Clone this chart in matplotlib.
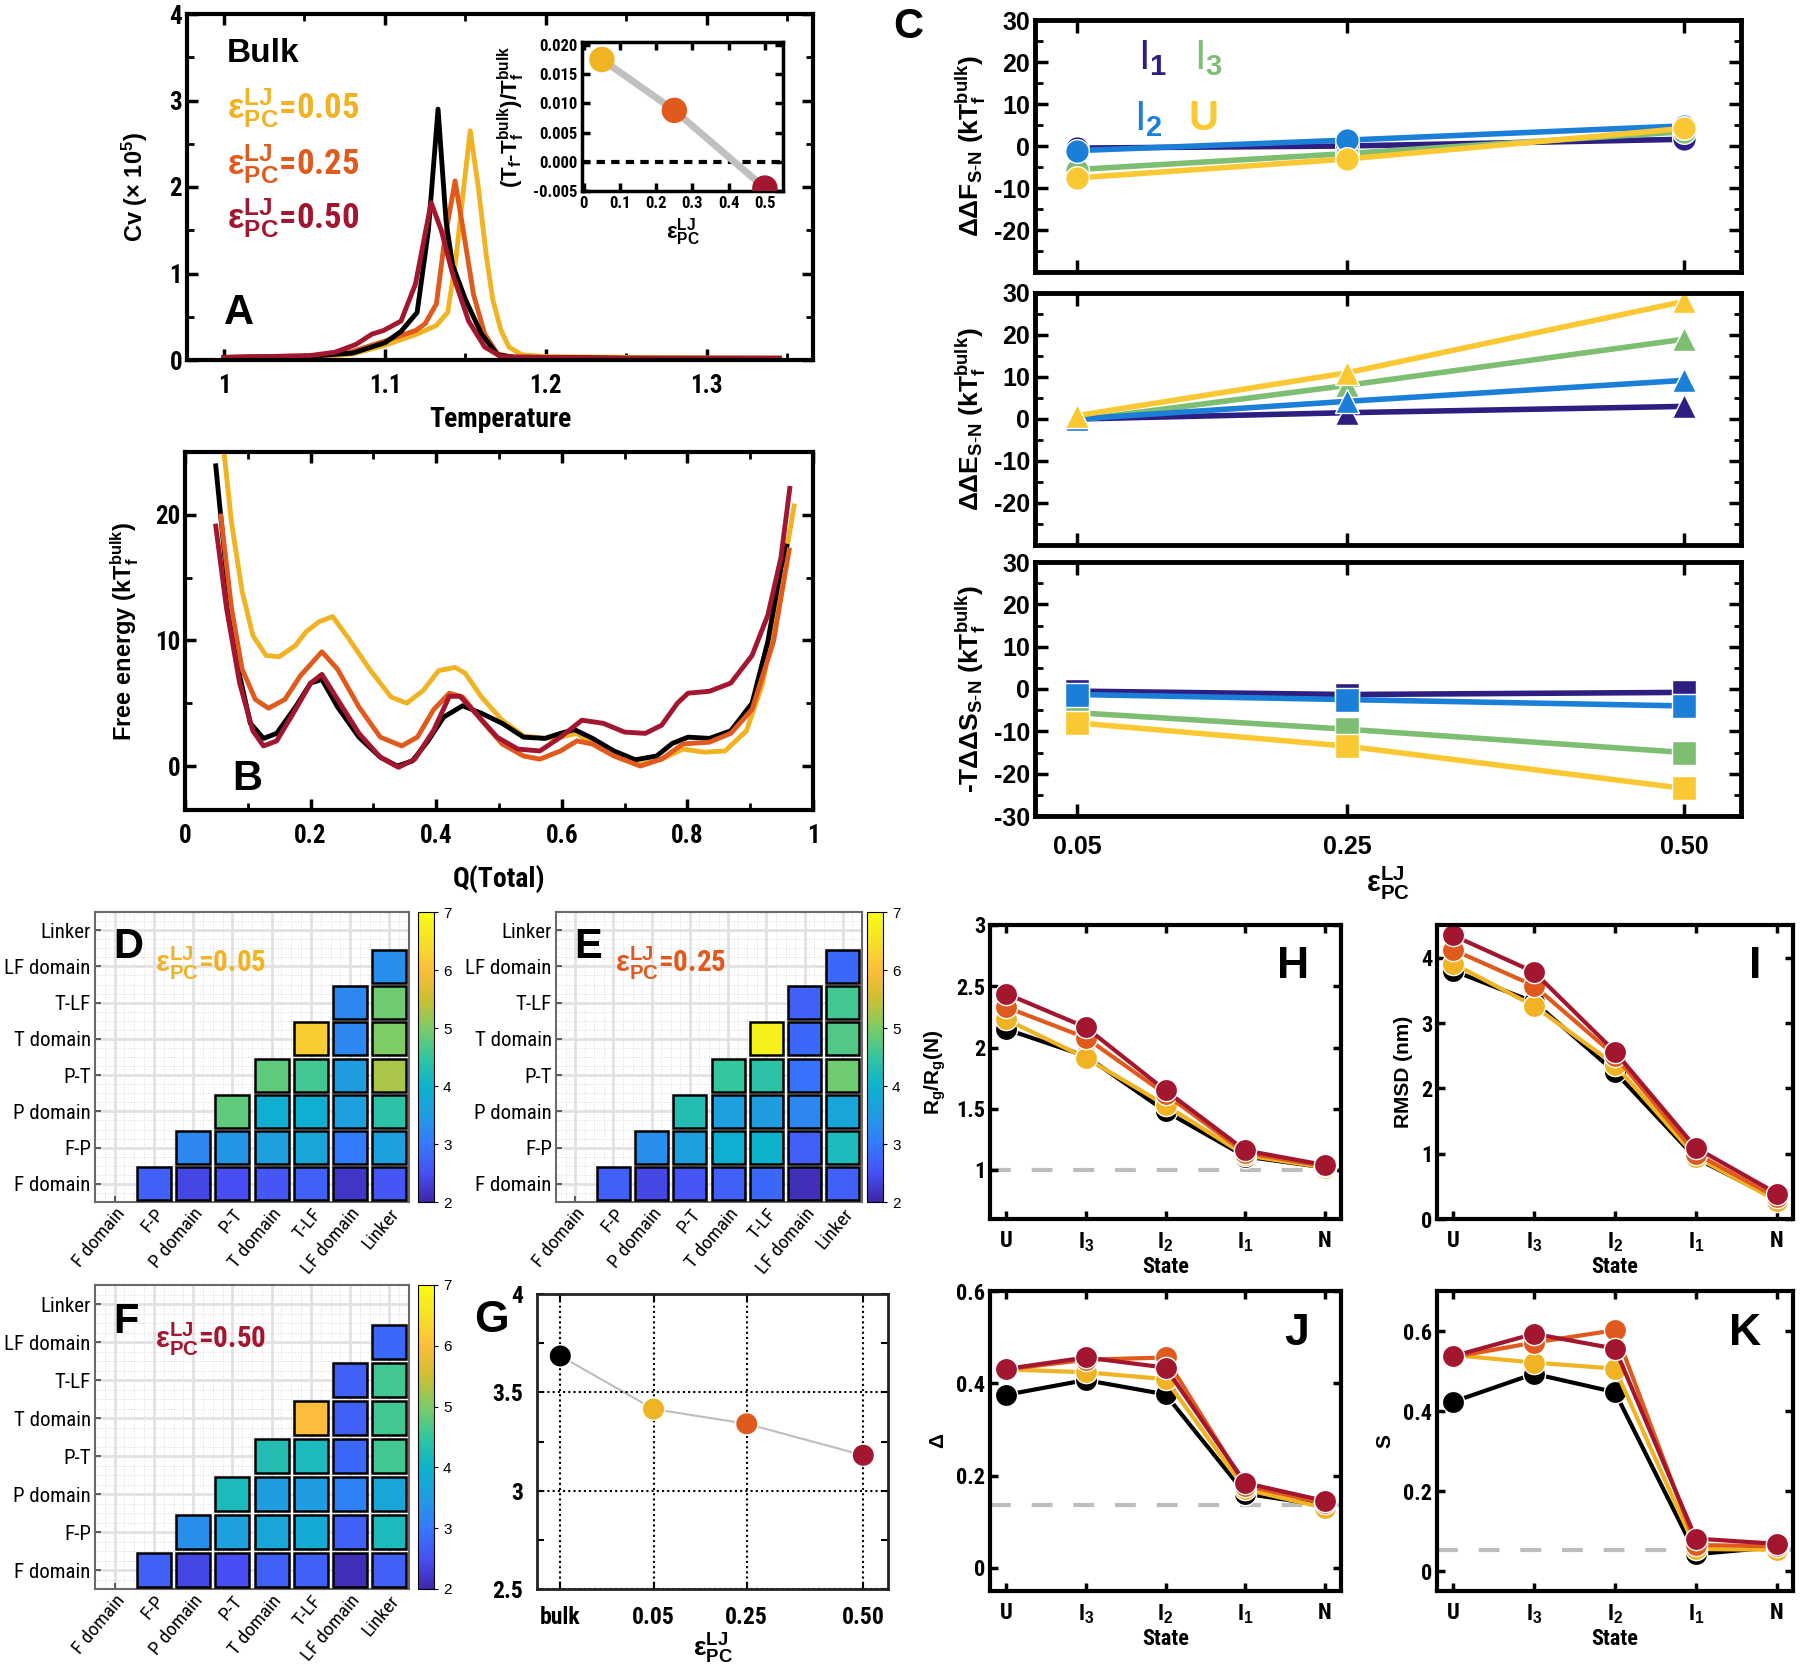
import matplotlib
matplotlib.use('Agg')
import matplotlib.pyplot as plt
import numpy as np
from matplotlib import font_manager
from matplotlib.colors import LinearSegmentedColormap, Normalize
from matplotlib.cm import ScalarMappable
from matplotlib.patches import Rectangle

SANS = 'Liberation Sans'


def pick_narrow():
    fl = font_manager.fontManager.ttflist
    names = {f.name for f in fl}
    for nm in ['Liberation Sans Narrow', 'Roboto Condensed', 'Open Sans Condensed', 'Noto Sans Condensed',
               'DejaVu Sans Condensed']:
        if nm in names:
            return nm, 'normal'
    for f in fl:
        if ('Narrow' in f.name or 'Condensed' in f.name) and 'Mono' not in f.name:
            return f.name, 'normal'
    for f in fl:
        if str(f.stretch) in ('condensed', 'semi-condensed') and 'Mono' not in f.name and 'Serif' not in f.name:
            return f.name, f.stretch
    return SANS, 'normal'


NARROW, NSTRETCH = pick_narrow()

plt.rcParams['font.family'] = [SANS, 'DejaVu Sans']
plt.rcParams['mathtext.fontset'] = 'custom'
plt.rcParams['mathtext.rm'] = SANS
plt.rcParams['mathtext.bf'] = SANS + ':bold'
plt.rcParams['mathtext.it'] = SANS + ':italic'
plt.rcParams['mathtext.default'] = 'bf'

# ---------------- data ----------------
# A: heat capacity
T_bulk = [1.0, 1.05, 1.08, 1.10, 1.11, 1.12, 1.127, 1.133, 1.138, 1.142, 1.15, 1.16, 1.17, 1.18, 1.25, 1.345]
cv_bulk = [0.03, 0.04, 0.08, 0.2, 0.33, 0.55, 1.5, 2.9, 1.6, 1.1, 0.7, 0.3, 0.06, 0.03, 0.02, 0.02]
T_005 = [1.0, 1.06, 1.08, 1.10, 1.12, 1.132, 1.139, 1.144, 1.149, 1.153, 1.158, 1.163, 1.167, 1.172, 1.177, 1.185, 1.2, 1.25, 1.345]
cv_005 = [0.03, 0.04, 0.07, 0.17, 0.3, 0.4, 0.55, 1.15, 2.0, 2.65, 2.0, 1.2, 0.7, 0.35, 0.15, 0.06, 0.04, 0.03, 0.02]
T_025 = [1.0, 1.06, 1.08, 1.10, 1.119, 1.125, 1.132, 1.137, 1.1436, 1.149, 1.155, 1.162, 1.17, 1.18, 1.25, 1.345]
cv_025 = [0.03, 0.05, 0.1, 0.22, 0.34, 0.42, 0.65, 1.38, 2.07, 1.46, 0.76, 0.3, 0.07, 0.03, 0.02, 0.02]
T_050 = [1.0, 1.053, 1.069, 1.082, 1.092, 1.099, 1.11, 1.119, 1.1287, 1.135, 1.142, 1.152, 1.162, 1.172, 1.2, 1.25, 1.345]
cv_050 = [0.03, 0.05, 0.09, 0.18, 0.3, 0.34, 0.45, 0.88, 1.82, 1.5, 1.0, 0.45, 0.15, 0.04, 0.03, 0.02, 0.02]

# A inset: relative shift of Tf
eps_in = [0.05, 0.25, 0.50]
dTf = [0.0175, 0.0088, -0.0045]

# B: free energy profiles
q_bulk = [0.049, 0.066, 0.087, 0.104, 0.125, 0.146, 0.176, 0.2, 0.218, 0.243, 0.277, 0.311, 0.338, 0.362, 0.387,
          0.412, 0.442, 0.472, 0.505, 0.539, 0.573, 0.598, 0.62, 0.649, 0.683, 0.717, 0.751, 0.776, 0.801, 0.835,
          0.869, 0.903, 0.928, 0.949, 0.958]
f_bulk = [23.9, 15.3, 7.2, 3.4, 2.2, 2.6, 4.7, 6.6, 6.9, 4.7, 2.3, 0.7, 0.0, 0.4, 2.0,
          3.9, 4.8, 4.2, 3.4, 2.3, 2.2, 2.6, 2.9, 2.2, 1.2, 0.5, 0.8, 1.8, 2.3, 2.2,
          2.8, 5.0, 9.9, 15.8, 17.5]
q_005 = [0.06, 0.074, 0.091, 0.108, 0.129, 0.15, 0.176, 0.193, 0.214, 0.235, 0.26, 0.294, 0.328, 0.353, 0.379,
         0.404, 0.43, 0.446, 0.472, 0.505, 0.539, 0.573, 0.598, 0.624, 0.657, 0.691, 0.725, 0.759, 0.793, 0.827,
         0.86, 0.894, 0.92, 0.945, 0.970]
f_005 = [26.0, 19.4, 13.9, 10.4, 8.8, 8.7, 9.6, 10.7, 11.5, 11.9, 10.2, 7.7, 5.5, 5.0, 6.0,
         7.6, 7.85, 7.4, 5.5, 3.65, 2.4, 2.2, 2.3, 2.6, 1.5, 0.7, 0.15, 0.55, 1.35, 1.1,
         1.2, 2.8, 6.6, 13.4, 20.7]
q_025 = [0.057, 0.074, 0.091, 0.112, 0.133, 0.159, 0.184, 0.218, 0.243, 0.277, 0.311, 0.345, 0.370, 0.396, 0.421,
         0.442, 0.472, 0.505, 0.539, 0.565, 0.598, 0.624, 0.649, 0.683, 0.725, 0.759, 0.793, 0.835, 0.869, 0.903,
         0.937, 0.962]
f_025 = [19.9, 12.6, 7.7, 5.3, 4.6, 5.3, 7.2, 9.1, 7.7, 4.7, 2.3, 1.6, 2.3, 4.5, 5.8,
         5.5, 3.65, 1.76, 0.8, 0.55, 1.2, 2.0, 1.75, 0.8, 0.0, 0.55, 1.76, 1.9, 2.6, 4.5,
         9.9, 17.2]
q_050 = [0.049, 0.066, 0.087, 0.108, 0.125, 0.146, 0.176, 0.2, 0.218, 0.243, 0.277, 0.311, 0.34, 0.366, 0.396,
         0.421, 0.438, 0.463, 0.497, 0.53, 0.565, 0.598, 0.632, 0.666, 0.7, 0.733, 0.759, 0.784, 0.801, 0.835,
         0.869, 0.903, 0.928, 0.949, 0.963]
f_050 = [19.1, 12.6, 6.6, 2.8, 1.6, 2.0, 4.5, 6.6, 7.3, 5.3, 2.6, 0.7, -0.1, 0.55, 2.85,
         5.55, 5.55, 4.2, 2.3, 1.35, 1.2, 2.3, 3.65, 3.4, 2.7, 2.6, 3.25, 5.0, 5.8, 5.95,
         6.6, 8.8, 12.0, 16.6, 22.1]

# C: thermodynamic differences
eps_c = [0.05, 0.25, 0.50]
dF_I1 = [-0.5, 0.0, 1.6]
dF_I2 = [-1.1, 1.4, 4.8]
dF_I3 = [-5.6, -1.8, 3.4]
dF_U = [-7.6, -3.1, 4.2]
dE_I1 = [0.0, 1.5, 3.0]
dE_I2 = [0.0, 4.2, 9.2]
dE_I3 = [-0.3, 8.0, 19.0]
dE_U = [0.8, 11.0, 28.0]
dS_I1 = [-0.5, -1.3, -0.8]
dS_I2 = [-1.3, -2.5, -4.0]
dS_I3 = [-5.6, -9.5, -15.0]
dS_U = [-8.0, -13.5, -23.5]

# D-F: domain contact maps (rows F domain .. LF domain, upper triangle)
domains = ['F domain', 'F-P', 'P domain', 'P-T', 'T domain', 'T-LF', 'LF domain', 'Linker']
map_005 = [[2.7, 2.4, 2.5, 2.6, 2.7, 2.2, 2.6],
           [3.2, 3.4, 3.6, 3.7, 3.0, 3.6],
           [4.8, 3.9, 3.9, 3.6, 4.4],
           [4.8, 4.6, 3.5, 5.3],
           [6.2, 3.2, 5.0],
           [3.2, 4.9],
           [3.3]]
map_025 = [[2.7, 2.4, 2.6, 2.7, 2.8, 2.1, 2.7],
           [3.3, 3.6, 3.9, 4.0, 2.7, 4.2],
           [4.3, 3.6, 3.5, 3.2, 3.7],
           [4.5, 4.4, 2.9, 4.9],
           [6.8, 2.8, 4.7],
           [2.7, 4.6],
           [2.8]]
map_050 = [[2.7, 2.4, 2.5, 2.7, 2.7, 2.1, 2.7],
           [3.3, 3.6, 3.7, 3.8, 2.7, 4.2],
           [4.2, 3.5, 3.5, 3.1, 3.7],
           [4.3, 4.2, 2.8, 4.6],
           [6.0, 2.7, 4.6],
           [2.7, 4.6],
           [2.8]]

# G
g_labels = ['bulk', '0.05', '0.25', '0.50']
g_x = [-0.15, 0.05, 0.25, 0.50]
g_y = [3.685, 3.415, 3.34, 3.18]

# H-K: per-state properties (bulk, 0.05, 0.25, 0.50)
states = ['U', 'I$_3$', 'I$_2$', 'I$_1$', 'N']
rg_bulk = [2.15, 1.93, 1.48, 1.11, 1.02]
rg_005 = [2.23, 1.915, 1.53, 1.12, 1.02]
rg_025 = [2.33, 2.08, 1.62, 1.14, 1.03]
rg_050 = [2.44, 2.165, 1.65, 1.16, 1.04]
rmsd_bulk = [3.80, 3.32, 2.25, 0.93, 0.30]
rmsd_005 = [3.91, 3.26, 2.36, 0.95, 0.28]
rmsd_025 = [4.12, 3.57, 2.50, 1.00, 0.33]
rmsd_050 = [4.34, 3.78, 2.56, 1.09, 0.39]
delta_bulk = [0.375, 0.407, 0.376, 0.161, 0.135]
delta_005 = [0.43, 0.424, 0.409, 0.17, 0.13]
delta_025 = [0.43, 0.451, 0.456, 0.178, 0.14]
delta_050 = [0.431, 0.456, 0.434, 0.184, 0.145]
s_bulk = [0.423, 0.493, 0.447, 0.042, 0.06]
s_005 = [0.54, 0.521, 0.506, 0.055, 0.053]
s_025 = [0.535, 0.571, 0.602, 0.065, 0.062]
s_050 = [0.537, 0.593, 0.556, 0.081, 0.068]
rg_ref = 1.0
delta_ref = 0.137
s_ref = 0.0525

# ---------------- style ----------------
BLACK = '#000000'
YEL = '#f0b323'
ORA = '#e05a1e'
RED = '#a3162f'
C_I1 = '#2d1e82'
C_I2 = '#1b7fd8'
C_I3 = '#7dbe73'
C_U = '#fac832'

parula = LinearSegmentedColormap.from_list('parula', [
    (0.00, (0.2422, 0.1504, 0.6603)), (0.10, (0.2795, 0.3139, 0.9614)),
    (0.20, (0.2000, 0.4780, 0.9900)), (0.30, (0.1250, 0.6130, 0.8800)),
    (0.40, (0.0500, 0.7000, 0.8000)), (0.50, (0.2000, 0.7760, 0.6200)),
    (0.60, (0.4900, 0.8000, 0.4000)), (0.70, (0.8000, 0.7500, 0.2000)),
    (0.80, (0.9900, 0.7400, 0.2400)), (0.90, (0.9600, 0.8800, 0.1500)),
    (1.00, (0.9769, 0.9839, 0.0805))])
norm = Normalize(2, 7)

W, H = 1800, 1671
fig = plt.figure(figsize=(W / 100, H / 100), dpi=100)
NF = dict(family=NARROW, stretch=NSTRETCH)


def box(l, t, r, b):
    return fig.add_axes([l / W, 1 - b / H, (r - l) / W, (b - t) / H])


def gp(ax, lw=3, tl=8):
    for s in ax.spines.values():
        s.set_linewidth(lw)
    ax.tick_params(which='major', direction='in', top=True, right=True, width=2.5, length=tl)
    ax.tick_params(which='minor', direction='in', top=True, right=True, width=2, length=tl * 0.6)


def ticklab(ax, xt, xl, yt, yl, size, narrow=True):
    fk = NF if narrow else dict(family=SANS)
    ax.set_xticks(xt, xl, fontsize=size, fontweight='bold', **fk)
    ax.set_yticks(yt, yl, fontsize=size, fontweight='bold', **fk)


# ---------------- A ----------------
axA = box(187, 14, 813, 360)
for T, cv, c in [(T_005, cv_005, YEL), (T_025, cv_025, ORA), (T_bulk, cv_bulk, BLACK), (T_050, cv_050, RED)]:
    axA.plot(T, cv, color=c, lw=3.5)
axA.set_xlim(0.977, 1.366)
axA.set_ylim(0, 4)
gp(axA)
ticklab(axA, [1, 1.1, 1.2, 1.3], ['1', '1.1', '1.2', '1.3'], [0, 1, 2, 3, 4], ['0', '1', '2', '3', '4'], 18)
axA.set_xticks(np.arange(1.05, 1.36, 0.1), minor=True)
axA.set_yticks(np.arange(0.5, 4, 1), minor=True)
axA.tick_params(axis='x', pad=10)
axA.set_xlabel('Temperature', fontsize=20, fontweight='bold', labelpad=6, **NF)
axA.set_ylabel(r'Cv (× 10$^{5}$)', fontsize=17, fontweight='bold', labelpad=14)
axA.text(1.002, 3.45, 'Bulk', fontsize=24, fontweight='bold', color=BLACK)
for y, c, v in [(2.79, YEL, '0.05'), (2.15, ORA, '0.25'), (1.52, RED, '0.50')]:
    axA.text(1.002, y, r'$\varepsilon^{LJ}_{PC}$=' + v, fontsize=25, fontweight='bold', color=c, **NF)
axA.text(1.0, 0.42, 'A', fontsize=30, fontweight='bold')

# inset
axI = box(582, 42, 783, 191)
axI.plot(eps_in, dTf, color='#c0c0c0', lw=5, zorder=1)
axI.axhline(0, color='black', lw=3, ls=(0, (2, 1.5)), zorder=0)
axI.scatter(eps_in, dTf, s=300, c=[YEL, ORA, RED], zorder=3)
axI.set_xlim(-0.005, 0.55)
axI.set_ylim(-0.005, 0.0205)
gp(axI, lw=2.5, tl=6)
ticklab(axI, np.arange(0, 0.51, 0.1), ['0', '0.1', '0.2', '0.3', '0.4', '0.5'],
        [-0.005, 0, 0.005, 0.01, 0.015, 0.02], ['-0.005', '0.000', '0.005', '0.010', '0.015', '0.020'], 12)
axI.set_xlabel(r'$\varepsilon^{LJ}_{PC}$', fontsize=16, labelpad=4)
axI.set_ylabel(r'(T$_f$-T$_f^{bulk}$)/T$_f^{bulk}$', fontsize=16, fontweight='bold', labelpad=4)

# ---------------- B ----------------
axB = box(185, 452, 813, 810)
for q, f, c in [(q_005, f_005, YEL), (q_bulk, f_bulk, BLACK), (q_025, f_025, ORA), (q_050, f_050, RED)]:
    axB.plot(q, f, color=c, lw=3.5, solid_joinstyle='round')
axB.set_xlim(0, 1)
axB.set_ylim(-3.5, 25)
gp(axB)
ticklab(axB, np.arange(0, 1.01, 0.2), ['0', '0.2', '0.4', '0.6', '0.8', '1'], [0, 10, 20], ['0', '10', '20'], 18)
axB.set_xticks(np.arange(0.1, 1, 0.2), minor=True)
axB.set_yticks([5, 15], minor=True)
axB.tick_params(axis='x', pad=10)
axB.set_xlabel('Q(Total)', fontsize=20, fontweight='bold', labelpad=12, **NF)
axB.set_ylabel(r'Free energy (kT$_f^{bulk}$)', fontsize=17, fontweight='bold', labelpad=10)
axB.text(0.075, -1.9, 'B', fontsize=30, fontweight='bold')

# ---------------- C ----------------
c_series = [(dF_I1, dF_I3, dF_I2, dF_U), (dE_I1, dE_I3, dE_I2, dE_U), (dS_I1, dS_I3, dS_I2, dS_U)]
c_marks = ['o', '^', 's']
c_labels = [r'$\Delta\Delta$F$_{S\text{-}N}$ (kT$_f^{bulk}$)',
            r'$\Delta\Delta$E$_{S\text{-}N}$ (kT$_f^{bulk}$)',
            r'-T$\Delta\Delta$S$_{S\text{-}N}$ (kT$_f^{bulk}$)']
c_boxes = [(20, 272), (293, 545), (562, 816)]
for k in range(3):
    ax = box(1035, c_boxes[k][0], 1741, c_boxes[k][1])
    for vals, col in zip(c_series[k], [C_I1, C_I3, C_I2, C_U]):
        ax.plot(eps_c, vals, color=col, lw=4, marker=c_marks[k], ms=17, mec='white', mew=1)
    ax.set_xlim(0.019, 0.542)
    ax.set_ylim(-30, 30)
    gp(ax, lw=3.5, tl=9)
    yt = [-20, -10, 0, 10, 20, 30] if k < 2 else [-30, -20, -10, 0, 10, 20, 30]
    ticklab(ax, eps_c, ['0.05', '0.25', '0.50'] if k == 2 else [], yt, [str(v) for v in yt], 18, narrow=False)
    ax.set_yticks(np.arange(-25, 30, 10), minor=True)
    ax.tick_params(axis='x', pad=14)
    ax.set_ylabel(c_labels[k], fontsize=19, fontweight='bold', labelpad=4)
    if k == 0:
        ax.text(0.095, 18.3, r'I$_1$', fontsize=30, color=C_I1)
        ax.text(0.137, 18.3, r'I$_3$', fontsize=30, color=C_I3)
        ax.text(0.092, 3.8, r'I$_2$', fontsize=30, color=C_I2)
        ax.text(0.133, 3.8, 'U', fontsize=30, fontweight='bold', color=C_U)
    if k == 2:
        ax.set_xlabel(r'$\varepsilon^{LJ}_{PC}$', fontsize=21, labelpad=4)
fig.text(893 / W, 1 - 38 / H, 'C', fontsize=30, fontweight='bold')


# ---------------- D, E, F ----------------
def heat(ax, cax, rows, tag, val, col):
    ax.set_xlim(-0.5, 7.5)
    ax.set_ylim(-0.5, 7.5)
    ax.set_axisbelow(True)
    ax.set_xticks(range(8), domains, rotation=50, ha='right', rotation_mode='anchor', fontsize=14, **NF)
    ax.set_yticks(range(8), domains, fontsize=15, **NF)
    ax.set_xticks(np.arange(-0.5, 7.6, 0.25), minor=True)
    ax.set_yticks(np.arange(-0.5, 7.6, 0.25), minor=True)
    ax.grid(True, which='minor', color='#cfcfcf', lw=0.6, ls=(0, (1, 2)))
    ax.grid(True, which='major', color='#e2e2e2', lw=2)
    ax.tick_params(which='minor', length=0)
    ax.tick_params(which='major', direction='in', length=4, width=1.2, color='#444444', pad=3)
    ax.tick_params(axis='x', pad=2)
    for s in ax.spines.values():
        s.set_color('#6a6a6a')
        s.set_linewidth(1.5)
    for i, row in enumerate(rows):
        for n, v in enumerate(row):
            j = i + 1 + n
            ax.add_patch(Rectangle((j - 0.43, i - 0.455), 0.86, 0.91, facecolor=parula(norm(v)),
                                   edgecolor='black', lw=1.8, zorder=3))
    ax.text(-0.03, 6.23, tag, fontsize=30, fontweight='bold', zorder=4)
    ax.text(1.03, 5.84, r'$\epsilon^{LJ}_{PC}$=' + val, fontsize=21, fontweight='bold',
            color=col, zorder=4, **NF)
    cb = fig.colorbar(ScalarMappable(norm, parula), cax=cax, ticks=range(2, 8))
    cb.outline.set_linewidth(0.8)
    cax.tick_params(labelsize=11, length=3, width=0.8)


heat(box(95, 912, 409, 1202), box(418, 912, 434, 1202), map_005, 'D', '0.05', YEL)
heat(box(556, 912, 862, 1202), box(867, 912, 883, 1202), map_025, 'E', '0.25', ORA)
heat(box(95, 1285, 409, 1589), box(418, 1285, 434, 1589), map_050, 'F', '0.50', RED)

# ---------------- G ----------------
axG = box(537, 1294, 888, 1589)
axG.plot(g_x, g_y, color='#bdbdbd', lw=1.5, zorder=1)
axG.scatter(g_x, g_y, s=260, c=[BLACK, YEL, ORA, RED], edgecolors='white', linewidths=1, zorder=3)
axG.set_xlim(-0.2, 0.553)
axG.set_ylim(2.5, 4)
for s in axG.spines.values():
    s.set_linewidth(2)
    s.set_color('#222222')
ticklab(axG, g_x, g_labels, [2.5, 3, 3.5, 4], ['2.5', '3', '3.5', '4'], 17)
axG.set_yticks([2.75, 3.25, 3.75], minor=True)
axG.tick_params(which='both', direction='in', top=True, right=True, width=1.5, length=5)
axG.tick_params(axis='x', pad=12)
axG.tick_params(axis='y', pad=10)
axG.grid(True, which='major', color='black', lw=1.5, ls=(0, (1, 1.5)))
axG.set_xlabel(r'$\varepsilon^{LJ}_{PC}$', fontsize=19, labelpad=2)
fig.text(474 / W, 1 - 1332 / H, 'G', fontsize=32, fontweight='bold')

# ---------------- H-K ----------------
hk = [
    (box(990, 925, 1341, 1219), [rg_bulk, rg_005, rg_025, rg_050], rg_ref, (0.6, 3.0),
     [1, 1.5, 2, 2.5, 3], ['1', '1.5', '2', '2.5', '3'], r'R$_g$/R$_g$(N)', 'H'),
    (box(1437, 925, 1793, 1219), [rmsd_bulk, rmsd_005, rmsd_025, rmsd_050], None, (0, 4.5),
     [0, 1, 2, 3, 4], ['0', '1', '2', '3', '4'], 'RMSD (nm)', 'I'),
    (box(990, 1291, 1341, 1591), [delta_bulk, delta_005, delta_025, delta_050], delta_ref, (-0.05, 0.6),
     [0, 0.2, 0.4, 0.6], ['0', '0.2', '0.4', '0.6'], r'$\Delta$', 'J'),
    (box(1437, 1291, 1793, 1591), [s_bulk, s_005, s_025, s_050], s_ref, (-0.05, 0.7),
     [0, 0.2, 0.4, 0.6], ['0', '0.2', '0.4', '0.6'], 'S', 'K'),
]
xs = np.arange(len(states))
for ax, ser, ref, yl, yt, ytl, lab, tag in hk:
    if ref is not None:
        ax.axhline(ref, color='#bdbdbd', lw=3, ls=(0, (5, 5)), zorder=0)
    for vals, col in zip(ser, [BLACK, YEL, ORA, RED]):
        ax.plot(xs, vals, color=col, lw=3, marker='o', ms=16, mec='white', mew=1)
    ax.set_xlim(-0.2, 4.2)
    ax.set_ylim(*yl)
    gp(ax, lw=3, tl=6)
    ticklab(ax, xs, states, yt, ytl, 16)
    ax.tick_params(axis='x', pad=8)
    ax.set_xlabel('State', fontsize=16, fontweight='bold', labelpad=2, **NF)
    ax.set_ylabel(lab, fontsize=15, fontweight='bold', labelpad=6)
    ax.text(0.91, 0.82, tag, transform=ax.transAxes, fontsize=32, fontweight='bold', ha='right')

fig.savefig('out.png', dpi=100)
